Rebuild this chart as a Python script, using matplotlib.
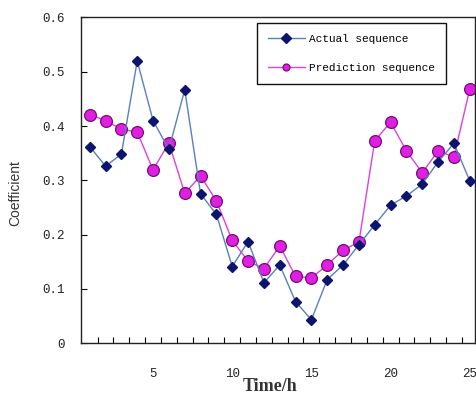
import matplotlib
matplotlib.use('Agg')
import matplotlib.pyplot as plt
from matplotlib.ticker import FixedLocator, FixedFormatter

# datos
horas = list(range(1, 26))
actual = [0.362, 0.326, 0.348, 0.520, 0.410, 0.357, 0.467, 0.275, 0.237,
          0.141, 0.187, 0.111, 0.144, 0.076, 0.043, 0.117, 0.144, 0.181,
          0.218, 0.254, 0.271, 0.293, 0.334, 0.368, 0.299]
prediccion = [0.421, 0.410, 0.394, 0.389, 0.319, 0.369, 0.276, 0.308, 0.262,
              0.189, 0.151, 0.137, 0.179, 0.123, 0.120, 0.144, 0.171, 0.186,
              0.373, 0.407, 0.354, 0.314, 0.354, 0.343, 0.468]
y_ticks = [0, 0.1, 0.2, 0.3, 0.4, 0.5, 0.6]
y_labels = ['0', '0.1', '0.2', '0.3', '0.4', '0.5', '0.6']
x_ticks = [5, 10, 15, 20, 25]

fig = plt.figure(figsize=(4.76, 3.94), dpi=100)
ax = fig.add_axes([81 / 476, 0.1294, 394 / 476, 0.8262])

ax.plot(horas, actual, color='#5a7fc0', linewidth=1.0, marker='D',
        markersize=5.5, markerfacecolor='#0c1470', markeredgecolor='#0c1470',
        label='Actual sequence', zorder=3)
ax.plot(horas, prediccion, color='#e040e0', linewidth=1.0, marker='o',
        markersize=8.5, markerfacecolor='#e020e0', markeredgecolor='#7a0a7a',
        markeredgewidth=0.9, label='Prediction sequence', zorder=2)

ax.set_xlim(0.45, 25.33)
ax.set_ylim(0, 0.6)

ax.yaxis.set_major_locator(FixedLocator(y_ticks))
ax.yaxis.set_major_formatter(FixedFormatter(y_labels))
ax.xaxis.set_major_locator(FixedLocator(x_ticks))
ax.xaxis.set_minor_locator(FixedLocator([h + 0.5 for h in range(1, 25)]))

mono = 'Liberation Mono'
ax.tick_params(axis='y', direction='in', length=4, width=0.8, pad=12,
               labelsize=9, labelcolor='#222222')
ax.tick_params(axis='x', which='major', length=0, pad=18, labelsize=9,
               labelcolor='#222222')
ax.tick_params(axis='x', which='minor', direction='in', length=4, width=0.8)
for lab in ax.get_xticklabels() + ax.get_yticklabels():
    lab.set_family(mono)

for s in ax.spines.values():
    s.set_linewidth(1.0)
    s.set_color('#222222')

ax.set_xlabel('Time/h', family='Liberation Serif', fontweight='bold',
              fontsize=13, color='#333333', va='center')
ax.xaxis.set_label_coords((270 - 81) / 394, (343 - 386) / 325.5)
ax.set_ylabel('Coefficient', family='Liberation Sans', fontsize=10,
              color='#333333', va='center')
ax.yaxis.set_label_coords(-0.168, 0.46)

leg = ax.legend(loc='upper left', bbox_to_anchor=(257 / 476, 1 - 23 / 394),
                bbox_transform=fig.transFigure, borderaxespad=0,
                prop={'family': mono, 'size': 8}, frameon=True,
                fancybox=False, framealpha=1, edgecolor='#111111',
                labelspacing=1.75, handlelength=3.4, handletextpad=0.35,
                borderpad=0.95)
leg.get_frame().set_linewidth(1.0)
for h in leg.legend_handles:
    h.set_markersize(5)

plt.savefig('out.png', dpi=100)
plt.close()
